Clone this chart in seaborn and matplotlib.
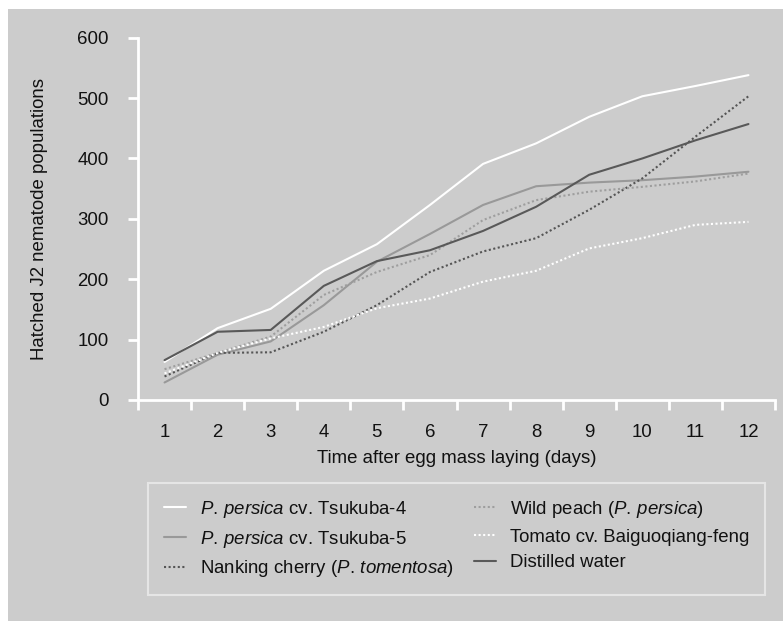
import numpy as np
import pandas as pd
import matplotlib
matplotlib.use("Agg")
import matplotlib.pyplot as plt
import seaborn as sns
from matplotlib.patches import Rectangle

# values
days = list(range(1, 13))
tsukuba4 = [63, 119, 151, 214, 258, 323, 391, 425, 469, 503, 520, 538]
tsukuba5 = [29, 75, 97, 157, 229, 275, 323, 354, 360, 364, 370, 378]
nanking = [39, 78, 79, 113, 157, 212, 246, 268, 315, 367, 436, 503]
wild_peach = [51, 78, 105, 174, 212, 240, 298, 331, 345, 353, 362, 375]
tomato = [44, 78, 102, 121, 152, 168, 196, 214, 251, 268, 290, 295]
water = [66, 113, 116, 189, 230, 248, 280, 320, 373, 400, 430, 457]

groups = ["Tsukuba-4", "Tsukuba-5", "Nanking", "Wild", "Tomato", "Water"]
series = [tsukuba4, tsukuba5, nanking, wild_peach, tomato, water]
labels = [
    r"$\it{P.\!}$ $\it{persica}$ cv. Tsukuba-4",
    r"$\it{P.\!}$ $\it{persica}$ cv. Tsukuba-5",
    r"Nanking cherry ($\it{P.\!}$ $\it{tomentosa}$)",
    r"Wild peach ($\it{P.\!}$ $\it{persica}$)",
    "Tomato cv. Baiguoqiang-feng",
    "Distilled water",
]
colors = {"Tsukuba-4": "white", "Tsukuba-5": "#999999", "Nanking": "#555555",
          "Wild": "#9e9e9e", "Tomato": "white", "Water": "#595959"}
dashes = {"Tsukuba-4": "", "Tsukuba-5": "", "Nanking": (1, 1.2),
          "Wild": (1, 1.2), "Tomato": (1, 1.2), "Water": ""}

df = pd.DataFrame({
    "day": days * len(groups),
    "count": [v for s in series for v in s],
    "group": [g for g in groups for _ in days],
})

sns.set_theme(style="ticks")
plt.rcParams["font.family"] = ["Liberation Sans", "DejaVu Sans"]
plt.rcParams["mathtext.fontset"] = "custom"
plt.rcParams["mathtext.rm"] = "Liberation Sans"
plt.rcParams["mathtext.it"] = "Liberation Sans:italic"

fs = 13.4

fig = plt.figure(figsize=(7.83, 6.21), dpi=100)
fig.patch.set_facecolor("white")
fig.patches.append(Rectangle((8 / 783, 0), 1, 612 / 621, transform=fig.transFigure,
                             facecolor="#cccccc", edgecolor="none", zorder=-10))

ax = fig.add_axes([138 / 783, 221 / 621, 637 / 783, 362.3 / 621])
ax.set_facecolor("none")

sns.lineplot(data=df, x="day", y="count", hue="group", style="group",
             hue_order=groups, style_order=groups, palette=colors, dashes=dashes,
             linewidth=1.5, ax=ax)

ax.set_xlim(0.5, 12.5)
ax.set_ylim(0, 600)
ax.set_yticks(range(0, 601, 100))
ax.set_xticks(days)
ax.set_xticks(np.arange(0.5, 13, 1), minor=True)

for side in ["top", "right"]:
    ax.spines[side].set_visible(False)
for side in ["left", "bottom"]:
    ax.spines[side].set_color("white")
    ax.spines[side].set_linewidth(2)

ax.tick_params(axis="y", colors="white", length=7.2, width=2, pad=14,
               labelcolor="#111111", labelsize=fs)
ax.tick_params(axis="x", which="major", length=0, pad=17,
               labelcolor="#111111", labelsize=fs)
ax.tick_params(axis="x", which="minor", colors="white", length=7.2, width=2)

ax.set_xlabel("Time after egg mass laying (days)", fontsize=fs, labelpad=7,
              color="#111111")
ax.set_ylabel("Hatched J2 nematode populations", fontsize=fs, labelpad=21,
              color="#111111")

handles, _ = ax.get_legend_handles_labels()
ax.get_legend().remove()
leg = ax.legend(handles, labels, ncol=2, loc="upper left",
                bbox_to_anchor=(148 / 783, 138 / 621, 617 / 783, 0),
                bbox_transform=fig.transFigure, mode="expand",
                fontsize=fs, frameon=True, fancybox=False, borderpad=0.85,
                handlelength=1.2, handletextpad=0.75, labelspacing=0.47,
                borderaxespad=0)
leg.get_frame().set_facecolor("#cccccc")
leg.get_frame().set_edgecolor("#ececec")
leg.get_frame().set_linewidth(1.5)
for t in leg.get_texts():
    t.set_color("#111111")

fig.savefig("out.png", dpi=100)
